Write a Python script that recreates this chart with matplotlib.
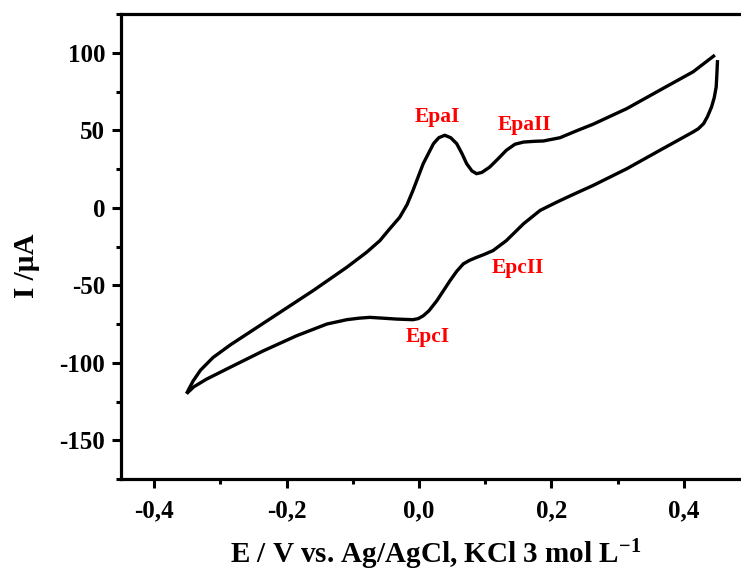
import matplotlib
matplotlib.use("Agg")
import matplotlib.pyplot as plt
from matplotlib.ticker import FuncFormatter, MultipleLocator

plt.rcParams["font.family"] = ["Liberation Serif", "DejaVu Serif"]
plt.rcParams["font.weight"] = "bold"
plt.rcParams["axes.unicode_minus"] = False
plt.rcParams["mathtext.fontset"] = "custom"
plt.rcParams["mathtext.rm"] = "Liberation Serif:bold"
plt.rcParams["mathtext.bf"] = "Liberation Serif:bold"
plt.rcParams["mathtext.default"] = "bf"

# anodic (forward) sweep, E in V, I in uA
forward_E = [-0.351, -0.347, -0.341, -0.330, -0.311, -0.285, -0.260, -0.210,
             -0.160, -0.109, -0.079, -0.059, -0.045, -0.029, -0.018, -0.009,
             0.0065, 0.022, 0.030, 0.039, 0.048, 0.057, 0.065, 0.072, 0.080,
             0.087, 0.095, 0.107, 0.120, 0.132, 0.145, 0.158, 0.175, 0.188,
             0.213, 0.240, 0.263, 0.314, 0.364, 0.414, 0.447]
forward_I = [-119.9, -116.5, -111.7, -104.8, -96.6, -88.5, -81.5, -67.5,
             -53.5, -38.4, -28.7, -21.2, -14.0, -6.1, 2.0, 11.2,
             28.5, 41.4, 45.2, 46.8, 45.2, 41.4, 35.0, 28.5, 23.8,
             22.0, 22.8, 26.3, 31.8, 37.1, 41.0, 42.4, 42.9, 43.1,
             45.2, 50.0, 53.9, 64.0, 75.9, 87.7, 98.5]

# cathodic (reverse) sweep
reverse_E = [0.451, 0.450, 0.449, 0.446, 0.442, 0.436, 0.430, 0.422, 0.414,
             0.364, 0.314, 0.263, 0.230, 0.208, 0.183, 0.158, 0.132, 0.112,
             0.098, 0.087, 0.076, 0.067, 0.057, 0.047, 0.027, 0.015, 0.0065,
             -0.001, -0.009, -0.034, -0.059, -0.074, -0.090, -0.109, -0.139,
             -0.185, -0.235, -0.286, -0.321, -0.340, -0.351]
reverse_I = [95.3, 86.0, 78.0, 71.0, 65.1, 59.0, 54.3, 51.0, 48.9,
             37.1, 25.2, 14.4, 8.0, 3.6, -1.7, -10.3, -21.2, -27.6,
             -30.2, -32.0, -34.0, -36.2, -41.0, -47.0, -60.0, -66.5, -69.7,
             -71.5, -72.2, -71.8, -71.1, -70.7, -71.2, -72.2, -75.0,
             -82.6, -92.3, -103.1, -110.6, -115.5, -119.9]

peak_labels = ["EpaI", "EpaII", "EpcII", "EpcI"]
peak_label_E = [0.028, 0.160, 0.150, 0.014]
peak_label_I = [58.4, 53.6, -39.1, -83.3]

fig = plt.figure(figsize=(7.41, 5.73), dpi=100)
ax = fig.add_axes([0.1633, 0.164, 0.8488, 0.8115])

for E, I in [(forward_E, forward_I), (reverse_E, reverse_I)]:
    ax.plot(E, I, color="black", lw=2.4, solid_joinstyle="round",
            solid_capstyle="butt")

for txt, e, i in zip(peak_labels, peak_label_E, peak_label_I):
    ax.text(e, i, txt, color="red", fontsize=15.5, fontweight="bold",
            ha="center", va="center")

ax.set_xlim(-0.45, 0.5)
ax.set_ylim(-175, 125)
ax.xaxis.set_major_locator(MultipleLocator(0.2))
ax.xaxis.set_minor_locator(MultipleLocator(0.1))
ax.yaxis.set_major_locator(MultipleLocator(50))
ax.yaxis.set_minor_locator(MultipleLocator(25))
ax.xaxis.set_major_formatter(
    FuncFormatter(lambda v, p: f"{v:.1f}".replace(".", ",").replace("-0,0", "0,0")))
ax.yaxis.set_major_formatter(FuncFormatter(lambda v, p: f"{v:.0f}"))

for s in ax.spines.values():
    s.set_linewidth(2.3)

ax.tick_params(which="major", direction="out", length=6.5, width=2.2,
               labelsize=18, pad=5)
ax.tick_params(which="minor", direction="out", length=3.5, width=2.2)
ax.tick_params(axis="x", which="major", pad=8)
for lab in ax.get_xticklabels() + ax.get_yticklabels():
    lab.set_fontweight("bold")

ax.set_xlabel("E / V vs. Ag/AgCl, KCl 3 mol L$^{-1}$", fontsize=21,
              fontweight="bold", labelpad=11)
ax.set_ylabel("I /µA", fontsize=21, fontweight="bold")
ax.yaxis.set_label_coords(-0.128, 0.458)

fig.savefig("out.png", dpi=100)
